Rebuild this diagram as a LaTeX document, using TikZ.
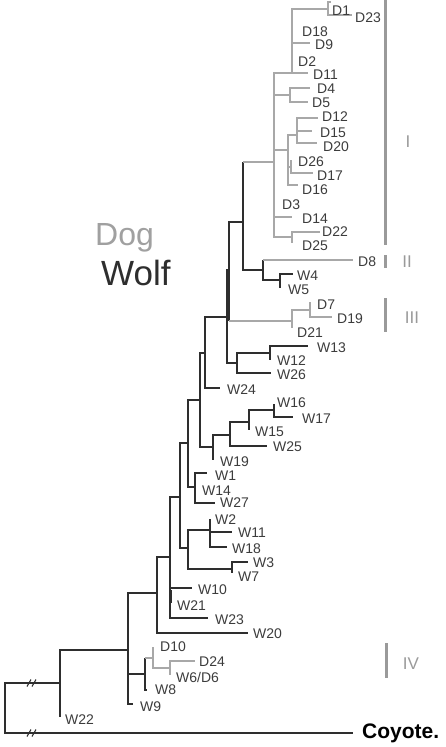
\documentclass[tikz,border=0pt]{standalone}
\usepackage{fontspec}
\setmainfont{Liberation Sans}
\definecolor{dkc}{HTML}{2E2E2E}
\definecolor{grc}{HTML}{A8A8A8}
\definecolor{txc}{HTML}{3C3C3C}
\definecolor{barc}{HTML}{9A9A9A}
\definecolor{dogc}{HTML}{A0A0A0}
\begin{document}
\begin{tikzpicture}[x=1pt,y=-1pt,
  dk/.style={draw=dkc, line width=1.4pt},
  gr/.style={draw=grc, line width=1.4pt},
  lbl/.style={anchor=west, inner sep=0pt, text=txc, font=\fontsize{14}{16}\selectfont},
  barline/.style={draw=barc, line width=3pt},
  rom/.style={text=barc, inner sep=0pt, font=\fontsize{17}{19}\selectfont},
  brk/.style={draw=dkc, line width=1.1pt}]
\useasboundingbox (0,0) rectangle (445,747);
% ---- internal nodes (x, attach y)
\coordinate (r) at (5,708);
\coordinate (A) at (60,683);
\coordinate (B) at (128,650);
\coordinate (C) at (157,593);
\coordinate (D) at (145,674);
\coordinate (E) at (153,658);
\coordinate (F) at (170,668);
\coordinate (G) at (170,557);
\coordinate (H) at (180,497);
\coordinate (N188) at (188,443);
\coordinate (N188b) at (188,548);
\coordinate (N195) at (195,487);
\coordinate (N200) at (200,400);
\coordinate (N205) at (205,353);
\coordinate (N213) at (213,447);
\coordinate (N230) at (230,435);
\coordinate (N249) at (249,422);
\coordinate (N274) at (274,410);
\coordinate (N226) at (227,317);
\coordinate (N229) at (229,270);
\coordinate (N243) at (243,222);
\coordinate (N263) at (263,270);
\coordinate (N280) at (280,280);
\coordinate (N292g) at (292,321);
\coordinate (N310) at (310,310);
\coordinate (N237) at (237,363);
\coordinate (N270) at (270,353);
\coordinate (N210) at (210,530);
\coordinate (N232) at (232,569);
\coordinate (M) at (274,162);
\coordinate (N292) at (292,73);
\coordinate (N327) at (328,9);
\coordinate (N290) at (290,95);
\coordinate (N288) at (288,150);
\coordinate (N297) at (297,135);
\coordinate (N291) at (291,167);
\coordinate (N292b) at (292,237);
% ---- tips
\coordinate (tCoy) at (353,733);
\coordinate (tW22) at (60,717);
\coordinate (tW9) at (133,704);
\coordinate (tW8) at (147,690);
\coordinate (tD10) at (153,647);
\coordinate (tD24) at (195,661);
\coordinate (tW6D6) at (170,675);
\coordinate (tW20) at (248,633);
\coordinate (tW10) at (192,588);
\coordinate (tW21) at (170,603);
\coordinate (tW23) at (208,618);
\coordinate (tW1) at (207,473);
\coordinate (tW14) at (195,491);
\coordinate (tW27) at (215,503);
\coordinate (tW19) at (213,460);
\coordinate (tW25) at (267,446);
\coordinate (tW15) at (249,430);
\coordinate (tW16) at (274,404);
\coordinate (tW17) at (293,417);
\coordinate (tW24) at (220,388);
\coordinate (tW4) at (293,274);
\coordinate (tW5) at (280,288);
\coordinate (tD8) at (353,260);
\coordinate (tD21) at (292,328);
\coordinate (tD7) at (310,302);
\coordinate (tD19) at (332,317);
\coordinate (tW26) at (271,373);
\coordinate (tW13) at (308,346);
\coordinate (tW12) at (270,360);
\coordinate (tW2) at (210,519);
\coordinate (tW11) at (232,532);
\coordinate (tW18) at (227,547);
\coordinate (tW3) at (248,562);
\coordinate (tW7) at (232,573);
\coordinate (tD1) at (331,2);
\coordinate (tD23) at (352,15);
\coordinate (tD18) at (292,30);
\coordinate (tD9) at (310,43);
\coordinate (tD2) at (292,60);
\coordinate (tD11) at (308,73);
\coordinate (tD4) at (310,88);
\coordinate (tD5) at (308,102);
\coordinate (tD12) at (318,118);
\coordinate (tD15) at (312,131);
\coordinate (tD20) at (317,143);
\coordinate (tD26) at (291,160);
\coordinate (tD17) at (313,173);
\coordinate (tD16) at (298,185);
\coordinate (tD3) at (274,205);
\coordinate (tD14) at (292,217);
\coordinate (tD22) at (320,232);
\coordinate (tD25) at (292,243);
% ---- dark edges
\foreach \p/\c in {r/A, r/tCoy, A/B, A/tW22, B/C, B/D, B/tW9, C/G, C/tW20,
  G/H, G/tW10, G/tW21, G/tW23, H/N188, H/N188b, N188/N200, N188/N195,
  N195/tW1, N195/tW14, N195/tW27, N200/N205, N200/N213, N213/N230, N213/tW19,
  N230/N249, N230/tW25, N249/N274, N249/tW15, N274/tW16, N274/tW17,
  N205/N226, N205/tW24, N226/N229, N226/N237, N229/N243, N243/N263,
  N263/N280, N280/tW4, N280/tW5, N237/N270, N237/tW26, N270/tW13, N270/tW12,
  N188b/N210, N188b/N232, N210/tW2, N210/tW11, N210/tW18, N232/tW3, N232/tW7,
  D/tW8}
  \draw[dk] (\p) |- (\c);
% ---- dark vertical, gray horizontal
\foreach \p/\c in {N229/N292g, N243/M, N263/tD8, D/E}{
  \draw[dk] (\p) -- (\p |- \c);
  \draw[gr] (\p |- \c) -- (\c);
}
% ---- gray edges
\foreach \p/\c in {N292g/N310, N292g/tD21, N310/tD7, N310/tD19,
  M/N292, M/N290, M/N288, M/tD3, M/tD14, M/N292b,
  N292/N327, N292/tD18, N292/tD9, N292/tD2, N292/tD11, N327/tD1, N327/tD23,
  N290/tD4, N290/tD5, N288/N297, N288/N291, N288/tD16,
  N297/tD12, N297/tD15, N297/tD20, N291/tD26, N291/tD17,
  N292b/tD22, N292b/tD25, E/tD10, E/F, F/tD24, F/tW6D6}
  \draw[gr] (\p) |- (\c);
% ---- thicker support segments
\draw[draw=grc, line width=2.6pt] (292,33) -- (292,60);
\draw[draw=grc, line width=2.6pt] (274,123) -- (274,170);
\draw[draw=grc, line width=2.6pt] (274,195) -- (274,218);
\draw[draw=dkc, line width=2.6pt] (171,590) -- (171,603);
\draw[draw=dkc, line width=2.4pt] (195,488) -- (195,500);
\draw[draw=dkc, line width=2.4pt] (210,526) -- (210,538);
\draw[draw=dkc, line width=2.4pt] (270,354) -- (270,360);
% ---- break marks
\coordinate (brkA) at (32,683);
\coordinate (brkB) at (32,733);
\foreach \b in {brkA, brkB}{
  \draw[brk] ([shift={(-5,3.5)}]\b) -- ([shift={(-1,-3.5)}]\b);
  \draw[brk] ([shift={(0,3.5)}]\b) -- ([shift={(4,-3.5)}]\b);
}
% ---- labels
\foreach \t/\x/\y/\n in {D1/332/11/lD1, D23/355/18/lD23, D18/302/32/lD18, D9/315/45/lD9,
  D2/298/62/lD2, D11/313/75/lD11, D4/317/89/lD4, D5/312/103/lD5, D12/322/117/lD12,
  D15/320/133/lD15, D20/323/147/lD20, D26/298/162/lD26, D17/317/176/lD17,
  D16/302/190/lD16, D3/282/205/lD3, D14/302/219/lD14, D22/322/232/lD22,
  D25/302/246/lD25, D8/358/262/lD8, W4/297/276/lW4, W5/288/290/lW5,
  D7/317/305/lD7, D19/337/319/lD19, D21/297/333/lD21, W13/317/348/lW13,
  W12/277/361/lW12, W26/277/375/lW26, W24/227/390/lW24, W16/277/403/lW16,
  W17/302/419/lW17, W15/255/432/lW15, W25/273/447/lW25, W19/220/462/lW19,
  W1/215/476/lW1, W14/202/491/lW14, W27/220/503/lW27, W2/215/520/lW2,
  W11/238/533/lW11, W18/232/549/lW18, W3/253/563/lW3, W7/238/577/lW7,
  W10/198/590/lW10, W21/177/606/lW21, W23/215/620/lW23, W20/253/634/lW20,
  D10/160/647/lD10, D24/199/662/lD24, W8/155/690/lW8,
  W9/140/707/lW9, W22/65/720/lW22}
  \node[lbl] (\n) at (\x,\y) {\t};
\node[lbl] (lW6D6) at (176,677) {W6/D6};
\node[anchor=west, inner sep=0pt, text=black, font=\bfseries\fontsize{21}{23}\selectfont] (lCoy) at (362,733) {Coyote.};
% ---- clade bars
\coordinate (b1a) at (385,0);   \coordinate (b1b) at (385,245);
\coordinate (b2a) at (385,255); \coordinate (b2b) at (385,268);
\coordinate (b3a) at (385,298); \coordinate (b3b) at (385,332);
\coordinate (b4a) at (386,643); \coordinate (b4b) at (386,678);
\draw[barline] (b1a) -- (b1b);
\draw[barline] (b2a) -- (b2b);
\draw[barline] (b3a) -- (b3b);
\draw[barline] (b4a) -- (b4b);
\node[rom] (rI) at (408,142) {I};
\node[rom] (rII) at (407,262) {II};
\node[rom] (rIII) at (412,318) {III};
\node[rom] (rIV) at (411,664) {IV};
% ---- legend
\node[anchor=base west, inner sep=0pt, text=dogc, font=\fontsize{32}{34}\selectfont] (dog) at (95,245) {Dog};
\node[anchor=base west, inner sep=0pt, text=dkc, font=\fontsize{35}{37}\selectfont] (wolf) at (101,285) {Wolf};
\end{tikzpicture}
\end{document}
